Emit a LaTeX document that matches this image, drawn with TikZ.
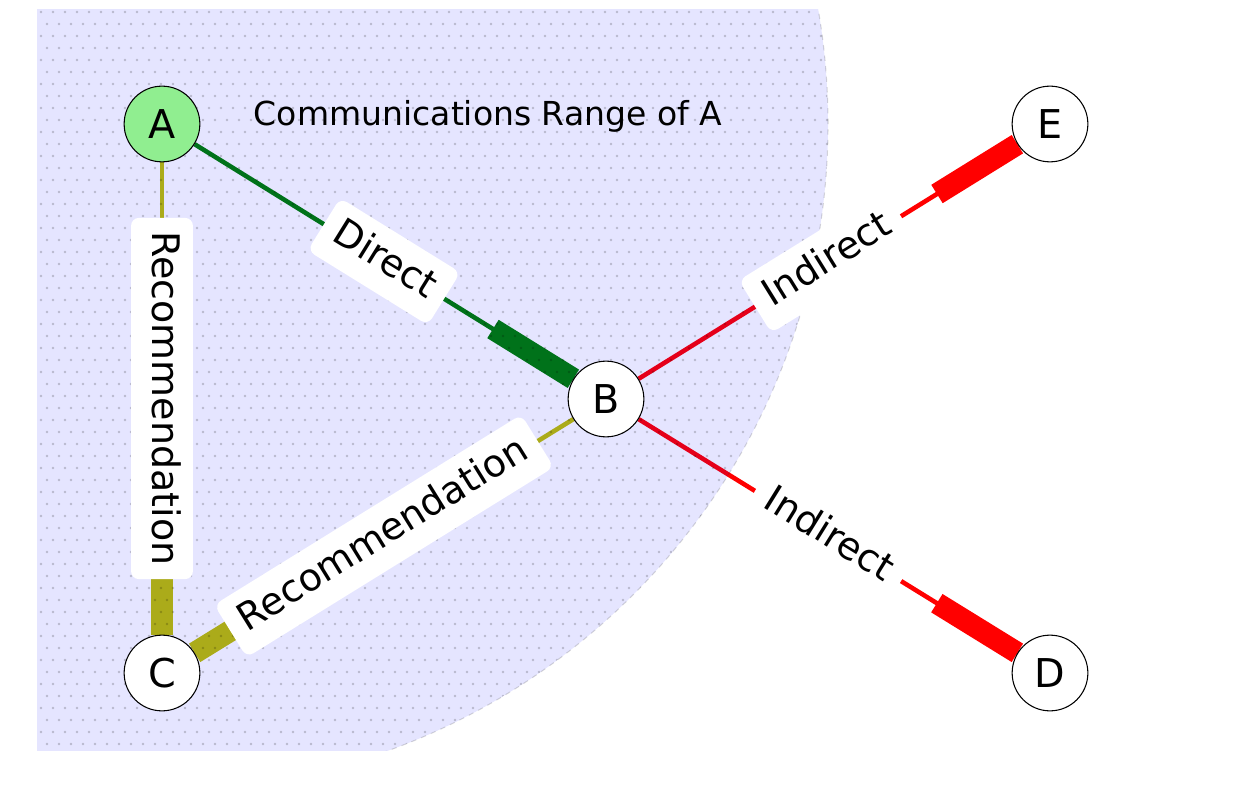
\documentclass[tikz,border=0pt]{standalone}
\usepackage{fontspec}
\setmainfont{DejaVu Sans}
\usetikzlibrary{calc}
\definecolor{nodegreen}{HTML}{90EE90}
\definecolor{directgreen}{HTML}{008000}
\definecolor{recolive}{HTML}{BFBF00}
\definecolor{indred}{HTML}{FF0000}
\pgfdeclarelayer{edges}
\pgfdeclarelayer{range}
\pgfsetlayers{edges,range,main}

\begin{document}
\begin{tikzpicture}[x=0.02cm, y=0.02cm,
    vertex/.style={circle, draw, line width=0.6pt, minimum size=43.1pt, inner sep=0pt, fill=white, font=\fontsize{22.6}{26}\selectfont},
    elabel/.style={fill=white, rounded corners=4.5pt, inner xsep=7.9pt, inner ysep=6.8pt, text height=16.4pt, text depth=5.2pt, font=\fontsize{21.6}{26}\selectfont},
    tail/.style={line width=2.6pt},
    head/.style={line width=12.3pt}]
    \useasboundingbox (0,0) rectangle (1246,785);
    \node[vertex, fill=nodegreen] (A) at (162,661) {A};
    \node[vertex] (B) at (606,386) {B};
    \node[vertex] (C) at (162,112) {C};
    \node[vertex] (D) at (1050,112) {D};
    \node[vertex] (E) at (1050,661) {E};
    \node[font=\fontsize{18.8}{22}\selectfont] (rangetitle) at (488,669) {Communications Range of A};
    \begin{pgfonlayer}{edges}
        \draw[directgreen, tail] (A) -- (B);
        \draw[directgreen, head] ($(B.center)!2.66cm!(A.center)$) -- (B);
        \draw[recolive, tail] (A) -- (C);
        \draw[recolive, head] ($(C.center)!2.66cm!(A.center)$) -- (C);
        \draw[recolive, tail] (B) -- (C);
        \draw[recolive, head] ($(C.center)!2.66cm!(B.center)$) -- (C);
        \draw[indred, tail] (B) -- (E);
        \draw[indred, head] ($(E.center)!2.66cm!(B.center)$) -- (E);
        \draw[indred, tail] (B) -- (D);
        \draw[indred, head] ($(D.center)!2.66cm!(B.center)$) -- (D);
    \end{pgfonlayer}
    \begin{pgfonlayer}{range}
        \begin{scope}
            \clip (37,35) rectangle (1246,775);
            \fill[blue, opacity=0.1] (A.center) circle[radius=666];
            \draw[black, opacity=0.15, dashed, line width=0.6pt] (A.center) circle[radius=666];
            \clip (A.center) circle[radius=666];
            % staggered dots, one row at a time
            \foreach \j in {2,...,64}
                \fill[black, opacity=0.2] \foreach \i in {0,...,66} {({41+12*\i+6*mod(\j,2)}, {5+12*\j}) circle[radius=1.4]};
        \end{scope}
    \end{pgfonlayer}
    \node[elabel, rotate=-31.77] (lAB) at ($(A)!0.5!(B)$) {Direct};
    \node[elabel, rotate=-90] (lAC) at ($(A)!0.5!(C)$) {Recommendation};
    \node[elabel, rotate=31.77] (lBC) at ($(B)!0.5!(C)$) {Recommendation};
    \node[elabel, rotate=31.77] (lBE) at ($(B)!0.5!(E)$) {Indirect};
    \node[elabel, rotate=-31.77] (lBD) at ($(B)!0.5!(D)$) {Indirect};
\end{tikzpicture}
\end{document}
